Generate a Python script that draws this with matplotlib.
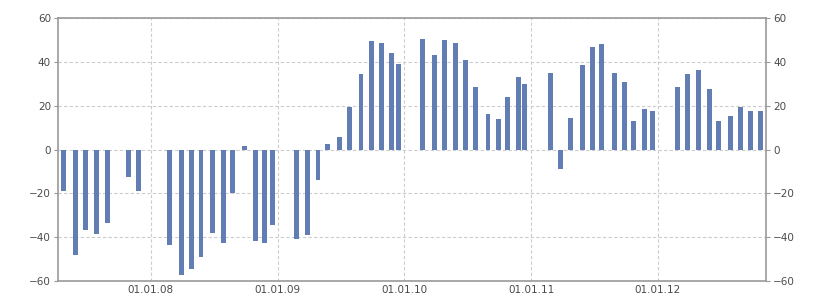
import matplotlib
matplotlib.use("Agg")
import matplotlib.pyplot as plt
import matplotlib.dates as mdates
import pandas as pd


DATES = [
    "2007-04-25", "2007-05-29", "2007-06-27", "2007-07-29", "2007-08-30",
    "2007-10-29", "2007-11-27",
    "2008-02-25", "2008-03-29", "2008-04-27", "2008-05-25", "2008-06-28",
    "2008-07-29", "2008-08-24", "2008-09-28", "2008-10-29", "2008-11-24",
    "2008-12-17",
    "2009-02-23", "2009-03-29", "2009-04-27", "2009-05-24", "2009-06-28",
    "2009-07-27", "2009-08-29", "2009-09-28", "2009-10-27", "2009-11-25",
    "2009-12-15",
    "2010-02-22", "2010-03-29", "2010-04-27", "2010-05-29", "2010-06-27",
    "2010-07-26", "2010-08-30", "2010-09-28", "2010-10-26", "2010-11-26",
    "2010-12-14",
    "2011-02-26", "2011-03-28", "2011-04-24", "2011-05-29", "2011-06-27",
    "2011-07-24", "2011-08-29", "2011-09-27", "2011-10-23", "2011-11-25",
    "2011-12-17",
    "2012-02-27", "2012-03-27", "2012-04-28", "2012-05-28", "2012-06-24",
    "2012-07-29", "2012-08-27", "2012-09-24", "2012-10-23",
]

VALUES = [
    -19.0, -48.0, -36.8, -38.7, -33.7,
    -12.6, -19.0,
    -43.7, -57.4, -54.7, -49.2, -38.2,
    -42.8, -19.9, 1.5, -41.9, -42.8,
    -34.6,
    -41.0, -39.1, -14.0, 2.3, 5.9,
    19.2, 34.3, 49.3, 48.4, 43.9,
    38.8,
    50.3, 42.9, 49.8, 48.4, 40.7,
    28.3, 16.4, 13.7, 23.8, 33.3,
    29.7,
    34.7, -8.7, 14.6, 38.4, 46.6,
    48.0, 34.7, 30.6, 13.2, 18.7,
    17.4,
    28.3, 34.3, 36.1, 27.4, 12.8,
    15.5, 19.6, 17.4, 17.4,
]

Y_TICKS = [-60, -40, -20, 0, 20, 40, 60]
X_TICKS = ["2008-01-01", "2009-01-01", "2010-01-01", "2011-01-01", "2012-01-01"]
X_RANGE = ["2007-04-09", "2012-11-08"]

BAR_COLOR = "#617db3"
AXIS_COLOR = "#999999"
GRID_COLOR = "#cccccc"
TEXT_COLOR = "#4a4a4a"


def main():
    dates = pd.to_datetime(DATES)

    fig = plt.figure(figsize=(8.25, 3.0), dpi=100)
    ax = fig.add_axes([0.0703, 0.0633, 0.8582, 0.8767])

    ax.bar(dates, VALUES, width=14, color=BAR_COLOR, zorder=3)

    ax.set_xlim(pd.to_datetime(X_RANGE[0]), pd.to_datetime(X_RANGE[1]))
    ax.set_ylim(-60, 60)
    ax.set_yticks(Y_TICKS)
    ax.set_xticks(pd.to_datetime(X_TICKS))
    ax.xaxis.set_major_formatter(mdates.DateFormatter("%d.%m.%y"))

    ax.grid(True, linestyle=(0, (3, 2)), color=GRID_COLOR, linewidth=0.8, zorder=0)

    for spine in ax.spines.values():
        spine.set_color(AXIS_COLOR)
        spine.set_linewidth(1.2)

    ax.tick_params(axis="y", which="both", left=True, right=True,
                   labelleft=True, labelright=True, length=3,
                   color=AXIS_COLOR, labelcolor=TEXT_COLOR, labelsize=7.5, pad=2)
    ax.tick_params(axis="x", length=0, color=AXIS_COLOR,
                   labelcolor=TEXT_COLOR, labelsize=7.5, pad=3)

    fig.savefig("out.png", dpi=100)
    plt.close(fig)


if __name__ == "__main__":
    main()
